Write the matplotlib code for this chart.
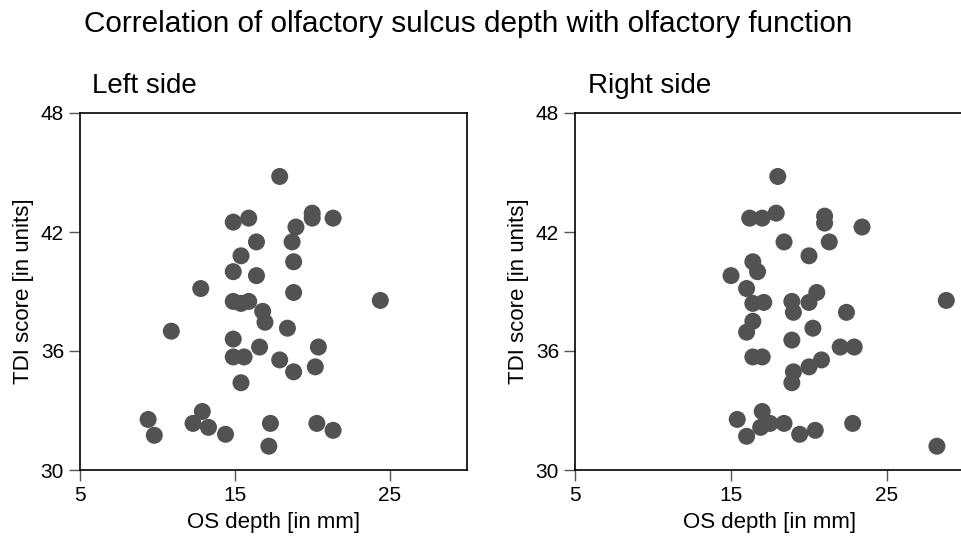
import matplotlib
matplotlib.use('Agg')
from matplotlib import pyplot as plt

plt.rcParams['font.family'] = ['Liberation Sans', 'DejaVu Sans']

# OS depth [mm] and TDI score, left side
left_depth = [17.9, 14.9, 15.9, 20.0, 20.0, 21.35, 18.95, 16.4, 18.7, 15.4,
              18.8, 14.9, 16.4, 12.8, 18.8, 24.4, 14.9, 15.4, 15.9, 16.8,
              16.95, 10.9, 18.4, 14.9, 16.6, 20.4, 14.9, 15.6, 17.9, 20.2,
              18.8, 15.4, 12.9, 9.4, 12.3, 13.3, 17.3, 20.3, 21.35, 9.8,
              14.4, 17.2]
left_tdi = [44.8, 42.5, 42.7, 42.95, 42.7, 42.7, 42.25, 41.5, 41.5, 40.8,
            40.5, 40.0, 39.8, 39.15, 38.95, 38.55, 38.5, 38.4, 38.5, 38.0,
            37.45, 37.0, 37.15, 36.6, 36.2, 36.2, 35.7, 35.7, 35.55, 35.2,
            34.95, 34.4, 32.95, 32.55, 32.35, 32.15, 32.35, 32.35, 32.0, 31.75,
            31.8, 31.2]

# OS depth [mm] and TDI score, right side
right_depth = [18.0, 16.2, 17.0, 17.9, 21.0, 21.0, 23.4, 18.4, 21.3, 20.0,
               16.4, 16.7, 15.0, 16.0, 20.5, 28.8, 16.4, 17.1, 18.9, 20.0,
               19.0, 22.4, 16.4, 16.0, 20.25, 18.9, 22.0, 22.9, 16.4, 17.0,
               20.8, 20.0, 19.0, 18.9, 17.0, 15.4, 16.9, 17.5, 18.4, 22.8,
               16.0, 19.4, 20.4, 28.2]
right_tdi = [44.8, 42.7, 42.7, 42.95, 42.8, 42.45, 42.25, 41.5, 41.5, 40.8,
             40.5, 40.0, 39.8, 39.15, 38.95, 38.55, 38.4, 38.45, 38.5, 38.45,
             37.95, 37.95, 37.5, 36.95, 37.15, 36.55, 36.2, 36.2, 35.7, 35.7,
             35.55, 35.2, 34.95, 34.4, 32.95, 32.55, 32.15, 32.35, 32.35, 32.35,
             31.7, 31.8, 32.0, 31.2]

x_ticks = [5, 15, 25]
y_ticks = [30, 36, 42, 48]
dot_color = '#525252'

fig = plt.figure(figsize=(9.61, 5.41), dpi=100)

# main title (baseline ~32 px from the top)
fig.text(84 / 961, 1 - 32 / 541, 'Correlation of olfactory sulcus depth with olfactory function',
         fontsize=21.4, ha='left', va='baseline')

panels = [
    ([80 / 961, 71 / 541, 387 / 961, 357 / 541], left_depth, left_tdi, 'Left side', 92),
    ([575 / 961, 71 / 541, 390 / 961, 357 / 541], right_depth, right_tdi, 'Right side', 588),
]

for rect, xs, ys, name, name_x in panels:
    ax = fig.add_axes(rect)
    ax.scatter(xs, ys, s=150, color=dot_color, edgecolors='none', zorder=3)
    ax.set_xlim(5, 30)
    ax.set_ylim(30, 48)
    ax.set_xticks(x_ticks)
    ax.set_yticks(y_ticks)
    ax.tick_params(direction='out', length=8, width=1, labelsize=15, color='#555555')
    for sp in ax.spines.values():
        sp.set_linewidth(1.2)
    ax.set_xlabel('OS depth [in mm]', fontsize=16, labelpad=5)
    ax.set_ylabel('TDI score [in units]', fontsize=16, labelpad=5)
    fig.text(name_x / 961, 1 - 93 / 541, name, fontsize=20, ha='left', va='baseline')

fig.savefig('out.png', dpi=100)
